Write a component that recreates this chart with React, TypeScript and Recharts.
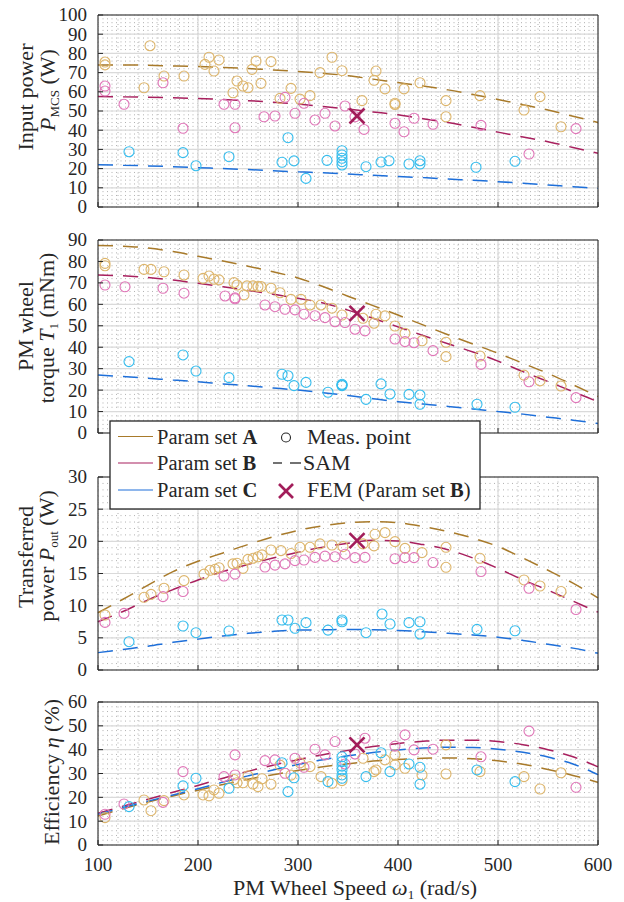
import { ComposedChart, Line, Scatter, XAxis, YAxis, CartesianGrid } from 'recharts'

const speeds = [100, 125, 150, 175, 200, 225, 250, 275, 300, 325, 350, 375, 400, 425, 450, 475, 500, 525, 550, 575, 600]

// input power P_MCS (W)
const inSamA = [74, 74, 73.8, 73.5, 73.2, 72.7, 72.1, 71.4, 70.6, 69.6, 68.4, 66.6, 64.8, 63, 61, 58.6, 56, 53.3, 50.5, 47.3, 44]
const inSamB = [57.5, 57.4, 57.2, 56.9, 56.5, 56, 55.4, 54.6, 53.6, 52.4, 51, 49.5, 48, 46, 44, 41.5, 39, 36.5, 34, 31, 28]
const inSamC = [22, 21.8, 21.4, 21, 20.5, 20, 19.5, 18.9, 18.3, 17.8, 17.2, 16.5, 15.9, 15.3, 14.6, 13.9, 13.2, 12.4, 11.5, 10.6, 9.7]

// PM wheel torque T1 (mNm)
const tqSamA = [87.4, 87.1, 86.3, 84.6, 82.4, 80.2, 77.8, 75.2, 72.3, 68.3, 63.8, 59.4, 55, 50.4, 45.8, 41.5, 37.2, 32.5, 27.8, 22.5, 17]
const tqSamB = [73.7, 73.3, 72.5, 71.3, 69.8, 68.2, 66.5, 64.7, 62.8, 60.6, 57.3, 53.5, 49.5, 45.5, 41.6, 37.8, 33.5, 28.6, 24, 19.3, 14.6]
const tqSamC = [27, 26.3, 25.5, 24.7, 23.9, 22.9, 22, 21, 20, 18.8, 17.5, 16, 14.6, 13.5, 12.4, 11.2, 10, 8.8, 7.4, 6, 4.4]

// transferred power P_out (W)
const outSamA = [8.9, 11, 13.2, 15.3, 16.9, 18.2, 19.5, 20.7, 21.7, 22.4, 22.9, 23.05, 22.9, 22.3, 21.5, 20.5, 19.2, 17.4, 15.5, 13.5, 11.2]
const outSamB = [7.5, 9.1, 10.9, 12.5, 14, 15.3, 16.4, 17.4, 18.3, 19.1, 19.7, 20.15, 20.05, 19.5, 18.7, 17.4, 15.8, 14, 12.4, 10.7, 9]
const outSamC = [2.7, 3.2, 3.7, 4.3, 4.8, 5.3, 5.7, 6, 6.2, 6.25, 6.3, 6.25, 6.15, 5.95, 5.7, 5.45, 5.1, 4.6, 4, 3.4, 2.6]

// efficiency eta (%)
const effSamA = [12.2, 15.2, 18, 20.6, 23, 25.4, 27.6, 29.5, 31.3, 32.8, 34.1, 35.2, 35.9, 36.4, 36.5, 36.2, 35.3, 33.9, 31.7, 29.2, 26.3]
const effSamB = [13.3, 16.3, 19.2, 22.1, 25, 28, 30.9, 33.5, 35.8, 37.9, 39.7, 41.3, 42.6, 43.5, 44, 44, 43.4, 42.1, 40, 37, 32.8]
const effSamC = [12.9, 15.7, 18.4, 21, 23.6, 26.4, 29, 31.5, 33.8, 35.8, 37.4, 38.8, 39.9, 40.7, 41, 40.9, 40.2, 38.9, 36.9, 34, 29.5]

type Pt = [number, number]

// measured points [speed, value]
const inMeasA: Pt[] = [[107, 75.5], [107, 74], [146, 62.1], [152, 84], [166, 68.2], [186, 68.2], [207, 74.3], [211, 78], [216, 70.8], [221, 76.6], [235, 59.5], [239, 65.6], [245, 63], [250, 62.1], [254, 71.7], [258, 76], [263, 64.4], [273, 75.7], [282, 56.6], [293, 61.8], [302, 56.2], [312, 58], [322, 70], [334, 78], [344, 71], [364, 55.4], [376, 66], [378, 70.8], [387, 61.5], [397, 54], [397, 53.4], [406, 61.5], [422, 64.7], [448, 55.4], [448, 47], [482, 58], [526, 50.5], [542, 57.5], [563, 41.8]]
const inMeasB: Pt[] = [[107, 63], [107, 60.4], [126, 53.5], [165, 64.7], [185, 41], [226, 53.5], [237, 53.5], [237, 41.3], [266, 47], [277, 47.4], [287, 57.1], [297, 48.8], [306, 54], [317, 45.3], [327, 48.8], [337, 42.2], [347, 52.6], [357, 47], [366, 40.4], [397, 43.6], [406, 39.2], [416, 46.2], [435, 43.1], [483, 42.5], [531, 27.6], [578, 40.8]]
const inMeasC: Pt[] = [[131, 28.8], [185, 28.3], [198, 21.5], [231, 26.2], [284, 23.3], [290, 36.1], [296, 24], [308, 14.9], [329, 24.3], [344, 29.3], [344, 27.1], [344, 25.4], [344, 23.6], [344, 21.9], [368, 21], [383, 23.4], [391, 24.1], [411, 22.4], [422, 24.1], [422, 22.4], [478, 20.7], [517, 23.8]]
const inFem: Pt[] = [[359, 47.4]]

const tqMeasA: Pt[] = [[107, 79.1], [107, 78], [146, 76.3], [153, 76.3], [166, 75.2], [186, 73.7], [205, 72.1], [211, 73.2], [216, 71.7], [221, 71.4], [236, 70.1], [239, 69], [246, 64.4], [249, 68.6], [255, 68.6], [260, 68.3], [263, 68.3], [273, 67.5], [282, 65.4], [293, 62.3], [303, 62.3], [312, 59.7], [323, 59.7], [334, 58.2], [344, 55], [365, 53.5], [376, 51.2], [378, 55.4], [387, 54.6], [397, 49.9], [407, 46.5], [424, 43], [448, 42.3], [448, 35.6], [482, 35.9], [526, 27], [542, 24.3], [563, 21.9]]
const tqMeasB: Pt[] = [[107, 69], [127, 68.2], [165, 67.5], [186, 65.2], [227, 63.9], [237, 63], [237, 62.6], [267, 59.7], [277, 58.9], [287, 57.7], [297, 57.4], [306, 55.4], [317, 54.7], [327, 53.8], [337, 51.9], [347, 51.5], [357, 48.4], [367, 47.6], [397, 43.8], [407, 42.6], [416, 42.1], [435, 38.4], [483, 32], [531, 23.9], [578, 16.5]]
const tqMeasC: Pt[] = [[131, 33.3], [185, 36.4], [198, 28.9], [231, 25.8], [284, 27.4], [290, 26.7], [296, 22.1], [308, 23.6], [330, 19], [344, 22.7], [344, 22.4], [344, 22.1], [368, 15.7], [383, 22.9], [392, 18.2], [411, 18], [422, 17.7], [422, 13.4], [479, 13.4], [517, 12]]
const tqFem: Pt[] = [[359, 55.8]]

const outMeasA: Pt[] = [[107, 8.55], [146, 11.3], [153, 11.76], [166, 12.7], [186, 13.9], [206, 14.9], [212, 15.5], [217, 15.65], [221, 15.9], [235, 16.5], [239, 16.6], [245, 15.8], [250, 17.2], [255, 17.36], [260, 17.6], [264, 17.9], [273, 18.65], [283, 18.55], [293, 18.1], [302, 19.07], [312, 19.07], [322, 19.6], [334, 19.43], [345, 19.17], [365, 19.6], [376, 19.3], [377, 21.1], [387, 21.35], [397, 19.95], [407, 18.9], [424, 18.25], [448, 19.07], [448, 15.96], [482, 17.36], [526, 14], [542, 13.06], [563, 12.2]]
const outMeasB: Pt[] = [[107, 7.4], [126, 8.8], [165, 11.4], [185, 12.2], [226, 14.6], [237, 14.9], [267, 16], [277, 16.3], [287, 16.5], [297, 17], [306, 17.1], [317, 17.5], [327, 17.7], [337, 17.6], [347, 18], [357, 17.46], [367, 17.5], [397, 17.3], [407, 17.46], [416, 17.46], [435, 16.7], [483, 15.3], [531, 12.7], [578, 9.4]]
const outMeasC: Pt[] = [[131, 4.4], [185, 6.84], [198, 5.8], [231, 6.06], [284, 7.77], [290, 7.77], [297, 6.48], [308, 7.36], [330, 6.2], [344, 7.77], [344, 7.5], [368, 5.8], [384, 8.7], [392, 7.15], [411, 7.36], [422, 7.5], [422, 5.6], [479, 6.32], [517, 6.1]]
const outFem: Pt[] = [[359, 20.1]]

const effMeasA: Pt[] = [[107, 11.5], [146, 18.9], [153, 14.4], [166, 18.6], [186, 21], [205, 21], [211, 20.6], [216, 23.1], [221, 21.7], [236, 27.5], [239, 26.1], [245, 26.1], [250, 29], [255, 25.6], [260, 24.5], [264, 27.8], [273, 25.5], [282, 33.5], [293, 29.3], [302, 34.5], [312, 32.9], [323, 28.7], [334, 25.9], [344, 27], [365, 36.4], [376, 30.8], [378, 31.5], [387, 35.7], [397, 37.8], [397, 33.6], [407, 32.2], [424, 29.4], [448, 42], [448, 29.8], [482, 30.8], [526, 28.7], [542, 23.5], [563, 30.3]]
const effMeasB: Pt[] = [[107, 12.9], [126, 17.2], [165, 17.9], [185, 30.8], [226, 28.7], [237, 29.4], [237, 37.8], [267, 35.4], [277, 35.7], [287, 30.1], [297, 36.4], [306, 32.6], [317, 40.2], [327, 37.8], [337, 43.4], [347, 34], [357, 38.2], [367, 44.8], [397, 41.5], [407, 46.2], [416, 39.9], [435, 40.2], [483, 37], [531, 47.8], [578, 24.2]]
const effMeasC: Pt[] = [[131, 16.1], [185, 24.8], [198, 28], [231, 23.8], [284, 34.5], [290, 22.4], [296, 28.2], [330, 26.6], [344, 37], [344, 35], [344, 33.1], [344, 31.5], [344, 29.4], [344, 28], [368, 28.7], [383, 38.7], [392, 30.8], [411, 34], [422, 32.6], [422, 25.5], [479, 31.5], [517, 26.6]]
const effFem: Pt[] = [[359, 42]]

const xTicks = [100, 200, 300, 400, 500, 600]
const inTicks = [0, 10, 20, 30, 40, 50, 60, 70, 80, 90, 100]
const tqTicks = [0, 10, 20, 30, 40, 50, 60, 70, 80, 90]
const outTicks = [0, 5, 10, 15, 20, 25, 30]
const effTicks = [0, 10, 20, 30, 40, 50, 60]

const serif = 'Liberation Serif, Times New Roman, DejaVu Serif, serif'
const ink = '#262626'
const colA = '#a87a2a'
const colB = '#a8205e'
const colC = '#1e6fd9'
const ptA = '#ddb56b'
const ptB = '#e076b8'
const ptC = '#35bdee'
const femCol = '#a21d5a'
const dash = '15 10'

const steps = (lo: number, hi: number, st: number) => {
  const out: number[] = []
  for (let v = lo; v <= hi + 1e-9; v += st) out.push(Math.round(v * 1000) / 1000)
  return out
}
const xMinor = steps(100, 600, 20)

const curve = (ys: number[]) => speeds.map((x, i) => ({ x, y: ys[i] }))
const pts = (p: Pt[]) => p.map(([x, y]) => ({ x, y }))

const ring = (color: string) => (p: any) => (
  <circle cx={p.cx} cy={p.cy} r={5} fill="none" stroke={color} strokeWidth={1.1} />
)
const cross = (p: any) => {
  const s = 7.5
  return (
    <g stroke={femCol} strokeWidth={2.6}>
      <line x1={p.cx - s} y1={p.cy - s} x2={p.cx + s} y2={p.cy + s} />
      <line x1={p.cx - s} y1={p.cy + s} x2={p.cx + s} y2={p.cy - s} />
    </g>
  )
}

const leftTick = (props: any) => {
  const { x, y, payload } = props
  return (
    <g>
      <line x1={x} y1={y} x2={x + 5} y2={y} stroke={ink} />
      <text x={x - 11} y={y} dy="0.34em" textAnchor="end" fontSize={19} style={{ fontFamily: serif }} fill={ink}>
        {payload.value}
      </text>
    </g>
  )
}
const rightTick = (props: any) => {
  const { x, y } = props
  return <line x1={x - 5} y1={y} x2={x} y2={y} stroke={ink} />
}
const topTick = (props: any) => {
  const { x, y } = props
  return <line x1={x} y1={y} x2={x} y2={y + 5} stroke={ink} />
}
const bottomTick = (withLabel: boolean) => (props: any) => {
  const { x, y, payload } = props
  return (
    <g>
      <line x1={x} y1={y} x2={x} y2={y - 5} stroke={ink} />
      {withLabel ? (
        <text x={x} y={y + 26} textAnchor="middle" fontSize={19} style={{ fontFamily: serif }} fill={ink}>
          {payload.value}
        </text>
      ) : null}
    </g>
  )
}

type PanelProps = {
  top: number
  height: number
  bottom: number
  yMax: number
  yTicks: number[]
  yMinorStep: number
  samA: number[]
  samB: number[]
  samC: number[]
  measA: Pt[]
  measB: Pt[]
  measC: Pt[]
  fem: Pt[]
  xLabels?: boolean
}

// axes get a 1px band: a zero-sized axis is not drawn at all
function Panel(p: PanelProps) {
  const yMinor = steps(0, p.yMax, p.yMinorStep)
  return (
    <div style={{ position: 'absolute', left: 0, top: p.top }}>
      <ComposedChart width={624} height={p.height} margin={{ top: 9, right: 25, bottom: p.bottom - 1, left: 38 }}
        style={{ overflow: 'visible' }}>
        <CartesianGrid horizontalValues={yMinor} verticalValues={xMinor} stroke="#b0b0b0" strokeDasharray="1 3.5" />
        <CartesianGrid horizontalValues={p.yTicks} verticalValues={xTicks} stroke="#dadada" strokeWidth={1.2} />
        <XAxis dataKey="x" type="number" domain={[100, 600]} ticks={xTicks} interval={0} height={1}
          tickSize={0} tickMargin={0} tickLine={false} axisLine={{ stroke: ink }}
          tick={bottomTick(!!p.xLabels)} />
        <XAxis xAxisId="top" orientation="top" type="number" domain={[100, 600]} ticks={xTicks} interval={0}
          height={1} tickSize={0} tickMargin={0} tickLine={false} axisLine={{ stroke: ink }} tick={topTick} />
        <YAxis dataKey="y" type="number" domain={[0, p.yMax]} ticks={p.yTicks} interval={0} width={60}
          tickSize={0} tickMargin={0} tickLine={false} axisLine={{ stroke: ink }} tick={leftTick} />
        <YAxis yAxisId="right" orientation="right" type="number" domain={[0, p.yMax]} ticks={p.yTicks}
          interval={0} width={1} tickSize={0} tickMargin={0} tickLine={false} axisLine={{ stroke: ink }}
          tick={rightTick} />
        <Scatter data={pts(p.measA)} dataKey="y" shape={ring(ptA)} isAnimationActive={false} />
        <Scatter data={pts(p.measB)} dataKey="y" shape={ring(ptB)} isAnimationActive={false} />
        <Scatter data={pts(p.measC)} dataKey="y" shape={ring(ptC)} isAnimationActive={false} />
        <Line data={curve(p.samA)} dataKey="y" type="monotone" stroke={colA} strokeWidth={1.5}
          strokeDasharray={dash} dot={false} isAnimationActive={false} />
        <Line data={curve(p.samB)} dataKey="y" type="monotone" stroke={colB} strokeWidth={1.5}
          strokeDasharray={dash} dot={false} isAnimationActive={false} />
        <Line data={curve(p.samC)} dataKey="y" type="monotone" stroke={colC} strokeWidth={1.5}
          strokeDasharray={dash} dot={false} isAnimationActive={false} />
        <Scatter data={pts(p.fem)} dataKey="y" shape={cross} isAnimationActive={false} />
      </ComposedChart>
    </div>
  )
}

function Overlay() {
  const t = { fill: ink, style: { fontFamily: serif } }
  return (
    <svg width={624} height={902} style={{ position: 'absolute', left: 0, top: 0, pointerEvents: 'none', fontFamily: serif }}>
      {/* y labels */}
      <g {...t} fontSize={22} textAnchor="middle">
        <text transform="translate(33,97) rotate(-90)">Input power</text>
        <text transform="translate(55,90) rotate(-90)">
          <tspan fontStyle="italic">P</tspan>
          <tspan fontSize={13} dy={4}>MCS</tspan>
          <tspan dy={-4}> (W)</tspan>
        </text>
        <text transform="translate(33,326) rotate(-90)">PM wheel</text>
        <text transform="translate(54,328) rotate(-90)">
          torque <tspan fontStyle="italic">T</tspan>
          <tspan fontSize={13} dy={4}>1</tspan>
          <tspan dy={-4}> (mNm)</tspan>
        </text>
        <text transform="translate(33,557) rotate(-90)">Transferred</text>
        <text transform="translate(54,556) rotate(-90)">
          power <tspan fontStyle="italic">P</tspan>
          <tspan fontSize={13} dy={4}>out</tspan>
          <tspan dy={-4}> (W)</tspan>
        </text>
        <text transform="translate(59,772) rotate(-90)">
          Efficiency <tspan fontStyle="italic">η</tspan> (%)
        </text>
      </g>
      {/* x label */}
      <text {...t} x={233} y={895} fontSize={22}>
        PM Wheel Speed <tspan fontStyle="italic">ω</tspan>
        <tspan fontSize={13} dy={4}>1</tspan>
        <tspan dy={-4}> (rad/s)</tspan>
      </text>
      {/* legend */}
      <rect x={110} y={421} width={370} height={88} fill="#fff" stroke={ink} strokeWidth={1.3} />
      <line x1={118} y1={436.5} x2={153} y2={436.5} stroke={colA} strokeWidth={1.2} />
      <line x1={118} y1={463} x2={153} y2={463} stroke={colB} strokeWidth={1.2} />
      <line x1={118} y1={490} x2={153} y2={490} stroke={colC} strokeWidth={1.2} />
      <g {...t} fontSize={20.5}>
        <text x={157} y={443.5}>Param set <tspan fontWeight="bold">A</tspan></text>
        <text x={157} y={470}>Param set <tspan fontWeight="bold">B</tspan></text>
        <text x={157} y={496.5}>Param set <tspan fontWeight="bold">C</tspan></text>
      </g>
      <circle cx={286} cy={437.5} r={4.5} fill="none" stroke={ink} strokeWidth={1.1} />
      <line x1={273} y1={463} x2={282} y2={463} stroke={ink} strokeWidth={1.3} />
      <line x1={290} y1={463} x2={301} y2={463} stroke={ink} strokeWidth={1.3} />
      <g stroke={femCol} strokeWidth={2.6}>
        <line x1={279} y1={484} x2={293} y2={498} />
        <line x1={279} y1={498} x2={293} y2={484} />
      </g>
      <g {...t} fontSize={22}>
        <text x={307} y={443.5}>Meas. point</text>
        <text x={303} y={470}>SAM</text>
        <text x={307} y={496.5}>
          FEM <tspan fontSize={20.5}>(Param set <tspan fontWeight="bold">B</tspan>)</tspan>
        </text>
      </g>
    </svg>
  )
}

export default function App() {
  return (
    <div style={{ position: 'absolute', left: 0, top: 0, width: 624, height: 902, background: '#fff' }}>
      <Panel top={5} height={212} bottom={10} yMax={100} yTicks={inTicks} yMinorStep={2}
        samA={inSamA} samB={inSamB} samC={inSamC} measA={inMeasA} measB={inMeasB} measC={inMeasC} fem={inFem} />
      <Panel top={230} height={213} bottom={10} yMax={90} yTicks={tqTicks} yMinorStep={2}
        samA={tqSamA} samB={tqSamB} samC={tqSamC} measA={tqMeasA} measB={tqMeasB} measC={tqMeasC} fem={tqFem} />
      <Panel top={467} height={213} bottom={10} yMax={30} yTicks={outTicks} yMinorStep={1}
        samA={outSamA} samB={outSamB} samC={outSamC} measA={outMeasA} measB={outMeasB} measC={outMeasC} fem={outFem} />
      <Panel top={692} height={199} bottom={46} yMax={60} yTicks={effTicks} yMinorStep={2}
        samA={effSamA} samB={effSamB} samC={effSamC} measA={effMeasA} measB={effMeasB} measC={effMeasC} fem={effFem}
        xLabels />
      <Overlay />
    </div>
  )
}
